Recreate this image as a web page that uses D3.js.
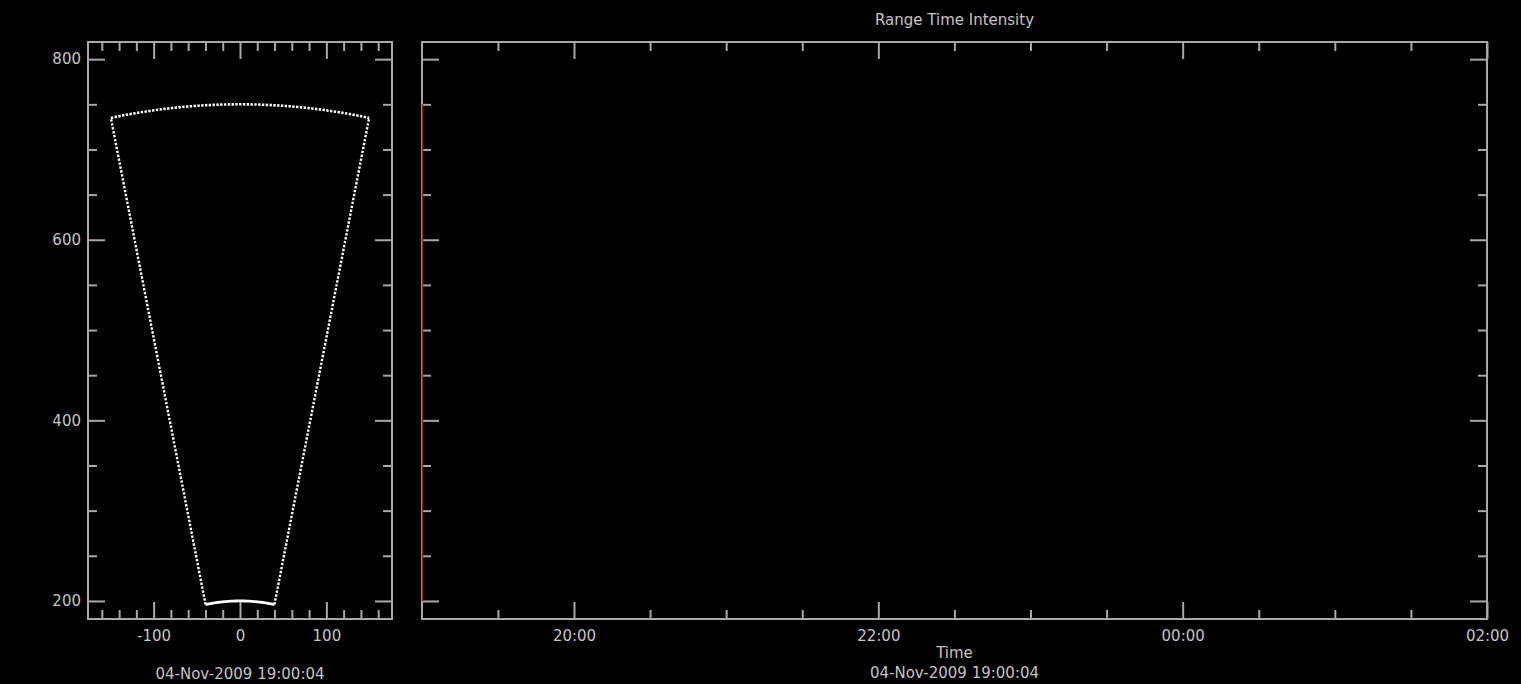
<!DOCTYPE html>
<html>
<head>
<meta charset="utf-8">
<script src="https://cdn.jsdelivr.net/npm/d3@7"></script>
<style>
  html, body { margin: 0; padding: 0; background: #000; }
  svg { display: block; }
</style>
</head>
<body>
<svg id="chart" width="1521" height="684"></svg>
<script>
// ---------------- data ----------------
const chartTitle = "Range Time Intensity";
const timeLabel = "Time";
const dateLabel = "04-Nov-2009 19:00:04";

// field-of-view fan (left panel): range limits (km) and beam angles (deg)
const fanRanges = [200, 750];
const fanAngles = [-11.5, 11.5];

// left panel axes
const fovXDomain = [-176, 176];
const rangeDomain = [180, 819];
const fovXMajorTicks = [-100, 0, 100];
const fovXMinorTicks = [-160, -140, -120, -80, -60, -40, -20, 20, 40, 60, 80, 120, 140, 160];
const rangeMajorTicks = [200, 400, 600, 800];
const rangeMinorTicks = [250, 300, 350, 450, 500, 550, 650, 700, 750];

// right panel (RTI) time axis
const timeDomain = ["2009-11-04T19:00:04Z", "2009-11-05T02:00:00Z"];
const timeMajorTicks = ["2009-11-04T20:00:00Z", "2009-11-04T22:00:00Z", "2009-11-05T00:00:00Z", "2009-11-05T02:00:00Z"];
const timeMinorTicks = ["2009-11-04T19:30:00Z", "2009-11-04T20:30:00Z", "2009-11-04T21:00:00Z", "2009-11-04T21:30:00Z",
  "2009-11-04T22:30:00Z", "2009-11-04T23:00:00Z", "2009-11-04T23:30:00Z", "2009-11-05T00:30:00Z",
  "2009-11-05T01:00:00Z", "2009-11-05T01:30:00Z"];

// RTI scans drawn so far: time and range extent
const scanTimes = ["2009-11-04T19:00:04Z"];
const scanRangeStart = [200];
const scanRangeEnd = [750];

// ---------------- drawing ----------------
(function () {
const svg = d3.select("#chart");
const frameColor = "#a8a8a8";
const textColor = "#c4c4c4";
const font = "DejaVu Sans, sans-serif";
const fontSize = "15px";
const majorLen = 17, minorLen = 9;

const yTop = 42, yBottom = 619;
const L = { x0: 88, x1: 392 };
const R = { x0: 422, x1: 1487 };

const y = d3.scaleLinear().domain(rangeDomain).range([yBottom, yTop]);
const xL = d3.scaleLinear().domain(fovXDomain).range([L.x0, L.x1]);
const xR = d3.scaleUtc().domain(timeDomain.map(d => new Date(d))).range([R.x0, R.x1]);

function styleAxis(g) {
  g.select(".domain").remove();
  g.selectAll(".tick line").attr("stroke", frameColor).attr("stroke-width", 2);
  g.selectAll(".tick text").attr("fill", textColor).attr("font-family", font).attr("font-size", fontSize);
}

function drawAxes(x, x0, x1, majorX, minorX, fmt, yLabels) {
  svg.append("g").attr("transform", `translate(0,${yBottom})`)
    .call(d3.axisBottom(x).tickValues(majorX).tickSize(-majorLen).tickPadding(11).tickFormat(fmt)).call(styleAxis);
  svg.append("g").attr("transform", `translate(0,${yBottom})`)
    .call(d3.axisBottom(x).tickValues(minorX).tickSize(-minorLen).tickFormat("")).call(styleAxis);
  svg.append("g").attr("transform", `translate(0,${yTop})`)
    .call(d3.axisTop(x).tickValues(majorX).tickSize(-majorLen).tickFormat("")).call(styleAxis);
  svg.append("g").attr("transform", `translate(0,${yTop})`)
    .call(d3.axisTop(x).tickValues(minorX).tickSize(-minorLen).tickFormat("")).call(styleAxis);
  svg.append("g").attr("transform", `translate(${x0},0)`)
    .call(d3.axisLeft(y).tickValues(rangeMajorTicks).tickSize(-majorLen).tickPadding(7)
      .tickFormat(yLabels ? (d => String(d)) : "")).call(styleAxis);
  svg.append("g").attr("transform", `translate(${x0},0)`)
    .call(d3.axisLeft(y).tickValues(rangeMinorTicks).tickSize(-minorLen).tickFormat("")).call(styleAxis);
  svg.append("g").attr("transform", `translate(${x1},0)`)
    .call(d3.axisRight(y).tickValues(rangeMajorTicks).tickSize(-majorLen).tickFormat("")).call(styleAxis);
  svg.append("g").attr("transform", `translate(${x1},0)`)
    .call(d3.axisRight(y).tickValues(rangeMinorTicks).tickSize(-minorLen).tickFormat("")).call(styleAxis);
  svg.append("rect").attr("x", x0).attr("y", yTop).attr("width", x1 - x0).attr("height", yBottom - yTop)
    .attr("fill", "none").attr("stroke", frameColor).attr("stroke-width", 2);
}

drawAxes(xL, L.x0, L.x1, fovXMajorTicks, fovXMinorTicks, d => String(d), true);
drawAxes(xR, R.x0, R.x1, timeMajorTicks.map(d => new Date(d)), timeMinorTicks.map(d => new Date(d)),
  d3.utcFormat("%H:%M"), false);

// ---- fan (field of view) ----
const rad = a => a * Math.PI / 180;
const toXY = (r, a) => [xL(r * Math.sin(rad(a))), y(r * Math.cos(rad(a)))];
const nSamp = 80;
const angleSamples = d3.range(nSamp + 1).map(i => fanAngles[0] + (fanAngles[1] - fanAngles[0]) * i / nSamp);
const line = d3.line();

svg.append("path").attr("d", line(angleSamples.map(a => toXY(fanRanges[1], a))))
  .attr("fill", "none").attr("stroke", "#ffffff").attr("stroke-width", 2.6).attr("stroke-dasharray", "2.4,1.4");
svg.append("path").attr("d", line(angleSamples.map(a => toXY(fanRanges[0], a))))
  .attr("fill", "none").attr("stroke", "#ffffff").attr("stroke-width", 2.8);
fanAngles.forEach(a => {
  svg.append("path").attr("d", line(fanRanges.map(r => toXY(r, a))))
    .attr("fill", "none").attr("stroke", "#ffffff").attr("stroke-width", 2.4).attr("stroke-dasharray", "2.4,1.6");
});

// ---- RTI scans ----
scanTimes.forEach((t, i) => {
  const xx = xR(new Date(t)) + 0.5;
  svg.append("line").attr("x1", xx).attr("x2", xx)
    .attr("y1", y(scanRangeStart[i])).attr("y2", y(scanRangeEnd[i]))
    .attr("stroke", "#8c2222").attr("stroke-width", 1.6);
});

// ---- text ----
const txt = (x, yy, s) => svg.append("text").attr("x", x).attr("y", yy).attr("text-anchor", "middle")
  .attr("fill", textColor).attr("font-family", font).attr("font-size", fontSize).text(s);
txt((R.x0 + R.x1) / 2, 25, chartTitle);
txt((R.x0 + R.x1) / 2, 658, timeLabel);
txt((R.x0 + R.x1) / 2, 678, dateLabel);
txt((L.x0 + L.x1) / 2, 679, dateLabel);
})();
</script>
</body>
</html>
